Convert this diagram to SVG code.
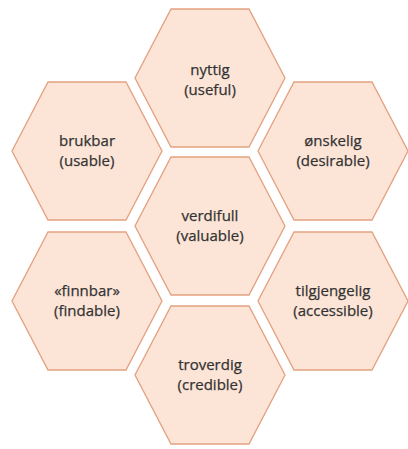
<svg xmlns="http://www.w3.org/2000/svg" xmlns:xlink="http://www.w3.org/1999/xlink" width="408" height="449" viewBox="0 0 408 449">
  <style>
    .hex { fill: #fce5d7; stroke: #e3a17f; stroke-width: 1.3; }
    .lbl { font-family: "Open Sans", "Noto Sans", "Liberation Sans", sans-serif; font-size: 15px; fill: #333333; text-anchor: middle; stroke: #333333; stroke-width: 0.25; }
  </style>
  <defs>
    <polygon id="hexshape" points="-39,-69 39,-69 75,0 39,69 -39,69 -75,0"/>
  </defs>
  <rect width="408" height="449" fill="#ffffff"/>
  <g id="connectors"></g>
  <g id="nyttig">
    <use xlink:href="#hexshape" href="#hexshape" class="hex" x="210" y="78"/>
    <text class="lbl" x="210" y="75">nyttig</text>
    <text class="lbl" x="210" y="95">(useful)</text>
  </g>
  <g id="brukbar">
    <use xlink:href="#hexshape" href="#hexshape" class="hex" x="87" y="151"/>
    <text class="lbl" x="87" y="146">brukbar</text>
    <text class="lbl" x="87" y="166">(usable)</text>
  </g>
  <g id="onskelig">
    <use xlink:href="#hexshape" href="#hexshape" class="hex" x="333" y="151"/>
    <text class="lbl" x="333" y="146">ønskelig</text>
    <text class="lbl" x="333" y="166">(desirable)</text>
  </g>
  <g id="verdifull">
    <use xlink:href="#hexshape" href="#hexshape" class="hex" x="210" y="226"/>
    <text class="lbl" x="210" y="221">verdifull</text>
    <text class="lbl" x="210" y="241">(valuable)</text>
  </g>
  <g id="finnbar">
    <use xlink:href="#hexshape" href="#hexshape" class="hex" x="87" y="301"/>
    <text class="lbl" x="87" y="296">«finnbar»</text>
    <text class="lbl" x="87" y="316">(findable)</text>
  </g>
  <g id="tilgjengelig">
    <use xlink:href="#hexshape" href="#hexshape" class="hex" x="333" y="301"/>
    <text class="lbl" x="333" y="296">tilgjengelig</text>
    <text class="lbl" x="333" y="316">(accessible)</text>
  </g>
  <g id="troverdig">
    <use xlink:href="#hexshape" href="#hexshape" class="hex" x="210" y="375"/>
    <text class="lbl" x="210" y="370">troverdig</text>
    <text class="lbl" x="210" y="390">(credible)</text>
  </g>
</svg>
